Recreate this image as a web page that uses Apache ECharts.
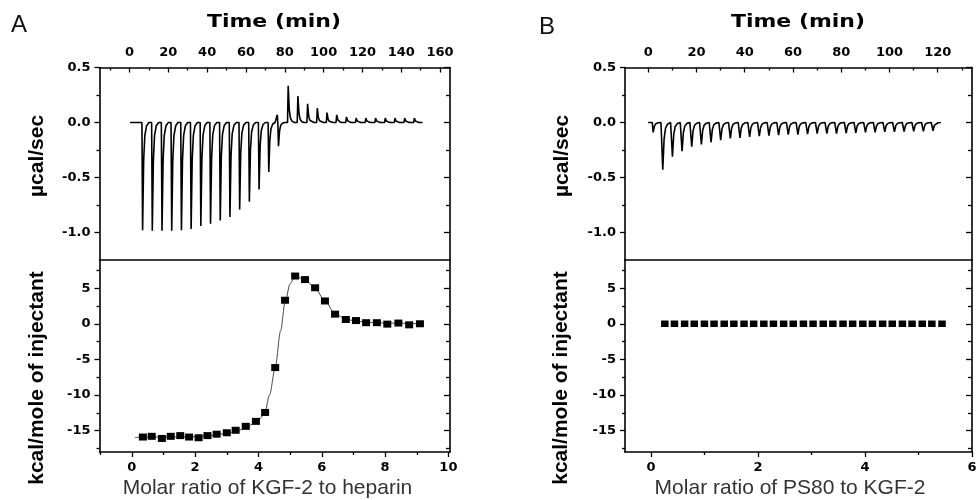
<!DOCTYPE html>
<html><head><meta charset="utf-8">
<script src="https://cdn.jsdelivr.net/npm/echarts@6/dist/echarts.min.js"></script>
<style>html,body{margin:0;padding:0;background:#fff}#c{width:978px;height:500px}</style>
</head><body><div id="c"></div>
<script>
// ---------- Panel A: raw thermogram (time in min, µcal/sec) ----------
const injTimeA = [6.4, 11.4, 16.4, 21.4, 26.4, 31.4, 36.4, 41.4, 46.4, 51.4, 56.4, 61.4, 66.4, 71.4, 76.4,
                  81.4, 86.4, 91.4, 96.4, 101.4, 106.4, 111.4, 116.4, 121.4, 126.4, 131.4, 136.4, 141.4, 146.4];
const peakA = [-0.98, -0.985, -0.985, -0.985, -0.98, -0.967, -0.94, -0.92, -0.89, -0.86, -0.79, -0.72, -0.61, -0.45, -0.215,
               0.333, 0.24, 0.17, 0.13, 0.09, 0.07, 0.05, 0.04, 0.04, 0.04, 0.04, 0.04, 0.04, 0.04];
const preBlipA = [0, 0, 0, 0, 0, 0, 0, 0, 0, 0, 0, 0, 0, 0, 0.07, 0, 0, 0, 0, 0, 0, 0, 0, 0, 0, 0, 0, 0, 0];
const traceSpanA = [0.3, 151];
// ---------- Panel A: integrated heats ----------
const ratioA = [0.35, 0.63, 0.95, 1.23, 1.53, 1.81, 2.11, 2.39, 2.68, 3.0, 3.28, 3.6, 3.92, 4.21, 4.53,
                4.84, 5.16, 5.47, 5.79, 6.1, 6.42, 6.76, 7.08, 7.4, 7.74, 8.07, 8.42, 8.76, 9.1];
const heatA = [-15.9, -15.8, -16.1, -15.8, -15.7, -15.9, -16.0, -15.7, -15.5, -15.3, -14.95, -14.4, -13.7, -12.45, -6.15,
               3.3, 6.7, 6.2, 5.05, 3.2, 1.35, 0.6, 0.45, 0.15, 0.15, -0.05, 0.1, -0.15, 0.0];
const fitRatioA = [0.1, 1.0, 2.0, 2.5, 3.0, 3.3, 3.6, 3.9, 4.05, 4.2, 4.35, 4.53, 4.7, 4.84, 5.0, 5.15, 5.47, 5.79, 6.1, 6.42, 6.76, 7.1, 7.5, 8.0, 9.1];
const fitHeatA  = [-15.95, -15.9, -15.85, -15.7, -15.4, -15.1, -14.6, -13.85, -13.3, -12.5, -10.0, -6.15, -1.0, 3.0, 5.6, 6.7, 6.2, 5.0, 3.2, 1.4, 0.65, 0.35, 0.2, 0.1, 0.0];
// ---------- Panel B: raw thermogram ----------
const injTimeB = [1.7, 5.7, 9.7, 13.7, 17.7, 21.7, 25.7, 29.7, 33.7, 37.7, 41.7, 45.7, 49.7, 53.7, 57.7,
                  61.7, 65.7, 69.7, 73.7, 77.7, 81.7, 85.7, 89.7, 93.7, 97.7, 101.7, 105.7, 109.7, 113.7, 117.7];
const peakB = [-0.09, -0.43, -0.31, -0.26, -0.22, -0.2, -0.18, -0.16, -0.145, -0.14, -0.13, -0.125, -0.12, -0.115, -0.11,
               -0.11, -0.105, -0.1, -0.1, -0.1, -0.097, -0.095, -0.09, -0.09, -0.085, -0.085, -0.082, -0.08, -0.08, -0.075];
const traceSpanB = [0, 121];
// ---------- Panel B: integrated heats ----------
const ratioB = [0.26, 0.44, 0.63, 0.81, 1.0, 1.18, 1.37, 1.55, 1.74, 1.92, 2.11, 2.29, 2.48, 2.66, 2.85,
                3.03, 3.22, 3.4, 3.59, 3.77, 3.96, 4.14, 4.33, 4.51, 4.7, 4.88, 5.07, 5.25, 5.44];
const heatB = [0, 0, 0, 0, 0, 0, 0, 0, 0, 0, 0, 0, 0, 0, 0, 0, 0, 0, 0, 0, 0, 0, 0, 0, 0, 0, 0, 0, 0];
// ---------- Ticks ----------
const timeMajorA = [0, 20, 40, 60, 80, 100, 120, 140, 160];
const timeMinorA = [-10, 10, 30, 50, 70, 90, 110, 130, 150];
const timeMajorB = [0, 20, 40, 60, 80, 100, 120];
const timeMinorB = [10, 30, 50, 70, 90, 110, 130];
const powerMajor = [0.5, 0.0, -0.5, -1.0];
const powerMinor = [0.25, -0.25, -0.75];
const heatMajor = [5, 0, -5, -10, -15];
const heatMinor = [7.5, 2.5, -2.5, -7.5, -12.5, -17.5];
const ratioMajorA = [0, 2, 4, 6, 8, 10];
const ratioMinorA = [-1, 1, 3, 5, 7, 9];
const ratioMajorB = [0, 2, 4, 6];
const ratioMinorB = [1, 3, 5];
// peak shape template: [minutes after injection, fraction of peak height]
const peakShape = [[0, 0], [0.35, 1], [0.9, 0.35], [1.5, 0.12], [2.4, 0.03], [3.6, 0]];

function buildTrace(span, times, peaks, blips) {
  const pts = [[span[0], 0]];
  times.forEach((t, i) => {
    if (blips && blips[i]) { pts.push([t - 0.7, 0]); pts.push([t - 0.25, blips[i]]); }
    peakShape.forEach(([dt, f]) => pts.push([t + dt, peaks[i] * f]));
  });
  pts.push([span[1], 0]);
  return pts;
}
const zip = (a, b) => a.map((v, i) => [v, b[i]]);

const chart = echarts.init(document.getElementById('c'), null, {renderer: 'canvas'});
const LBL = {color: '#000', fontFamily: 'DejaVu Sans', fontWeight: 'bold', fontSize: 13};
function axis(gridIndex, position, min, max, o) {
  return {
    type: 'value', gridIndex, position, min, max,
    splitLine: {show: false},
    axisLine: {show: !!o.line, onZero: false, lineStyle: {color: '#000', width: 1.6}},
    axisTick: {show: !!o.ticks, inside: !!o.inside, length: o.len || 5, customValues: o.ticks, lineStyle: {color: '#000', width: 1.3}},
    axisLabel: Object.assign({show: !!o.labels, customValues: o.labels, formatter: o.fmt, margin: o.margin || 9,
      showMinLabel: true, showMaxLabel: true, hideOverlap: false}, LBL)
  };
}
const xAxes = [], yAxes = [];
function addX(a) { xAxes.push(a); return xAxes.length - 1; }
function addY(a) { yAxes.push(a); return yAxes.length - 1; }
const f1 = v => Number(v).toFixed(1);
const f0 = v => String(Math.round(v));

function upperGrid(g, tmin, tmax, tMaj, tMin) {
  const xi = addX(axis(g, 'top', tmin, tmax, {line: true, ticks: tMaj, inside: true, len: 5, labels: tMaj, fmt: f0, margin: 8}));
  addX(axis(g, 'top', tmin, tmax, {ticks: tMin, inside: true, len: 3}));
  addX(axis(g, 'bottom', tmin, tmax, {line: true}));
  const yi = addY(axis(g, 'left', -1.25, 0.5, {line: true, ticks: powerMajor, len: 5, labels: powerMajor, fmt: f1, margin: 9}));
  addY(axis(g, 'left', -1.25, 0.5, {ticks: powerMinor, len: 3}));
  addY(axis(g, 'right', -1.25, 0.5, {line: true, ticks: powerMajor, inside: true, len: 6}));
  addY(axis(g, 'right', -1.25, 0.5, {ticks: powerMinor, inside: true, len: 4}));
  return [xi, yi];
}
function lowerGrid(g, rmin, rmax, rMaj, rMin) {
  const xi = addX(axis(g, 'bottom', rmin, rmax, {line: true, ticks: rMaj, len: 5, labels: rMaj, fmt: f0, margin: 9}));
  addX(axis(g, 'bottom', rmin, rmax, {ticks: rMin, len: 3}));
  const yi = addY(axis(g, 'left', -18, 8.95, {line: true, ticks: heatMajor, len: 5, labels: heatMajor, fmt: f0, margin: 9}));
  addY(axis(g, 'left', -18, 8.95, {ticks: heatMinor, len: 3}));
  addY(axis(g, 'right', -18, 8.95, {line: true, ticks: heatMajor, inside: true, len: 6}));
  addY(axis(g, 'right', -18, 8.95, {ticks: heatMinor, inside: true, len: 4}));
  return [xi, yi];
}
const grids = [
  {left: 99.5, top: 67.5, width: 350.5, height: 192.5},
  {left: 99.5, top: 260, width: 350.5, height: 192},
  {left: 625, top: 67.5, width: 347, height: 192.5},
  {left: 625, top: 260, width: 347, height: 192}
].map(g => Object.assign({containLabel: false, outerBoundsMode: 'none'}, g));

const gAU = upperGrid(0, -15.45, 165.1, timeMajorA, timeMinorA);
const gAL = lowerGrid(1, -1.02, 10.05, ratioMajorA, ratioMinorA);
const gBU = upperGrid(2, -9.6, 134.2, timeMajorB, timeMinorB);
const gBL = lowerGrid(3, -0.484, 6, ratioMajorB, ratioMinorB);

const traceStyle = {color: '#000', width: 1.6};
const series = [
  {type: 'line', xAxisIndex: gAU[0], yAxisIndex: gAU[1], data: buildTrace(traceSpanA, injTimeA, peakA, preBlipA),
   showSymbol: false, symbol: 'none', lineStyle: traceStyle, animation: false},
  {type: 'line', xAxisIndex: gAL[0], yAxisIndex: gAL[1], data: zip(fitRatioA, fitHeatA), symbol: 'none',
   smooth: 0.3, smoothMonotone: 'x', lineStyle: {color: '#333', width: 0.9}, animation: false, z: 2},
  {type: 'scatter', xAxisIndex: gAL[0], yAxisIndex: gAL[1], data: zip(ratioA, heatA), symbol: 'rect', symbolSize: [8, 7],
   itemStyle: {color: '#000', opacity: 1}, animation: false, z: 3},
  {type: 'line', xAxisIndex: gBU[0], yAxisIndex: gBU[1], data: buildTrace(traceSpanB, injTimeB, peakB, null),
   showSymbol: false, symbol: 'none', lineStyle: traceStyle, animation: false},
  {type: 'scatter', xAxisIndex: gBL[0], yAxisIndex: gBL[1], data: zip(ratioB, heatB), symbol: 'rect', symbolSize: [7.5, 6.5],
   itemStyle: {color: '#000', opacity: 1}, animation: false, z: 3}
];

const T = (text, x, y, font, fill, extra) => Object.assign({type: 'text', x, y,
  style: {text, font, fill, align: 'center', verticalAlign: 'middle'}}, extra || {});
const graphic = [
  T('A', 19, 25, '24px "Liberation Sans"', '#111'),
  T('B', 547, 27, '24px "Liberation Sans"', '#111'),
  T('Time (min)', 274, 22, 'bold 18px "DejaVu Sans"', '#000', {scaleX: 1.22}),
  T('Time (min)', 798, 22, 'bold 18px "DejaVu Sans"', '#000', {scaleX: 1.22}),
  T('µcal/sec', 37, 156, 'bold 21px "Liberation Sans"', '#000', {rotation: Math.PI / 2}),
  T('µcal/sec', 562, 156, 'bold 21px "Liberation Sans"', '#000', {rotation: Math.PI / 2}),
  T('kcal/mole of injectant', 37, 378, 'bold 21px "Liberation Sans"', '#000', {rotation: Math.PI / 2}),
  T('kcal/mole of injectant', 561, 378, 'bold 21px "Liberation Sans"', '#000', {rotation: Math.PI / 2}),
  T('Molar ratio of KGF-2 to heparin', 267.5, 488, '21px "Liberation Sans"', '#333'),
  T('Molar ratio of PS80 to KGF-2', 790, 488, '21px "Liberation Sans"', '#333')
];

chart.setOption({animation: false, backgroundColor: '#fff', grid: grids, xAxis: xAxes, yAxis: yAxes, series, graphic});
</script></body></html>
